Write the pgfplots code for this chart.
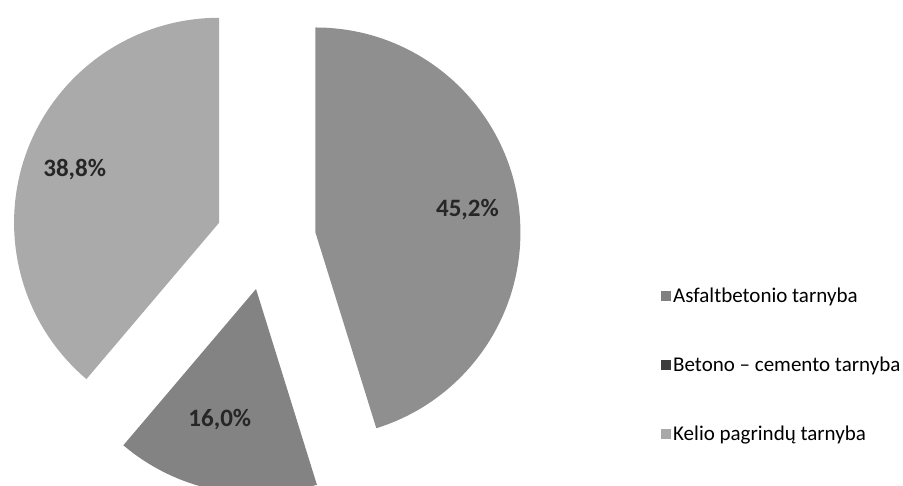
\documentclass[border=0pt]{standalone}
\usepackage{pgfplots}
\pgfplotsset{compat=1.18}
\usepackage{fontspec}
\setmainfont{Carlito}

\definecolor{asfalt}{HTML}{8F8F8F}
\definecolor{betono}{HTML}{838383}
\definecolor{kelio}{HTML}{AAAAAA}
\definecolor{asfaltL}{HTML}{808080}
\definecolor{betonoL}{HTML}{3C3C3C}
\definecolor{kelioL}{HTML}{A8A8A8}

\tikzset{pielabel/.style={font=\fontsize{25}{30}\selectfont\bfseries, text=black!85}}

% pie centre, radius and explode distance, in axis units (1 unit = 1pt)
\def\cx{266}\def\cy{246}\def\r{205}\def\ex{50}

% #1 start angle, #2 value (%), #3 colour, #4 label distance (fraction of r),
% #5 label angle shift, #6 label
\newcommand\slice[6]{%
  \pgfmathsetmacro\e{#1-3.6*#2}%
  \pgfmathsetmacro\m{(#1+\e)/2}%
  \pgfmathsetmacro\ox{\cx+\ex*cos(\m)}%
  \pgfmathsetmacro\oy{\cy+\ex*sin(\m)}%
  \pgfmathsetmacro\px{\ox+\r*cos(#1)}%
  \pgfmathsetmacro\py{\oy+\r*sin(#1)}%
  \pgfmathsetmacro\lx{\ox+#4*\r*cos(\m+#5)}%
  \pgfmathsetmacro\ly{\oy+#4*\r*sin(\m+#5)}%
  \edef\tmp{\noexpand\fill[#3] (axis cs:\ox,\oy) -- (axis cs:\px,\py)
    arc[start angle=#1, end angle=\e, radius=\r pt] -- cycle;
    \noexpand\node[pielabel] at (axis cs:\lx,\ly) {#6};}%
  \tmp
  \global\let\nextstart\e
}

\begin{document}
\begin{tikzpicture}
\useasboundingbox (0,0) rectangle (903pt,486pt);
\begin{axis}[
    at={(0,0)}, anchor=south west,
    x=1pt, y=1pt,
    xmin=0, xmax=903, ymin=0, ymax=486,
    hide axis,
    clip=false,
    legend cell align=left,
    legend style={
        at={(axis cs:658,202)}, anchor=north west,
        draw=none, fill=none,
        font=\fontsize{21}{25}\selectfont,
        row sep=49pt,
    },
    legend image code/.code={\fill[#1] (0pt,-5pt) rectangle (10pt,5pt);},
]
\slice{90}{45.2}{asfalt}{0.75}{0}{45,2\%}
\slice{\nextstart}{16.0}{betono}{0.66}{-4}{16,0\%}
\slice{\nextstart}{38.8}{kelio}{0.75}{0}{38,8\%}

\addlegendimage{fill=asfaltL, draw=none}
\addlegendentry{Asfaltbetonio tarnyba}
\addlegendimage{fill=betonoL, draw=none}
\addlegendentry{Betono -- cemento tarnyba}
\addlegendimage{fill=kelioL, draw=none}
\addlegendentry{Kelio pagrindų tarnyba}
\end{axis}
\end{tikzpicture}
\end{document}
